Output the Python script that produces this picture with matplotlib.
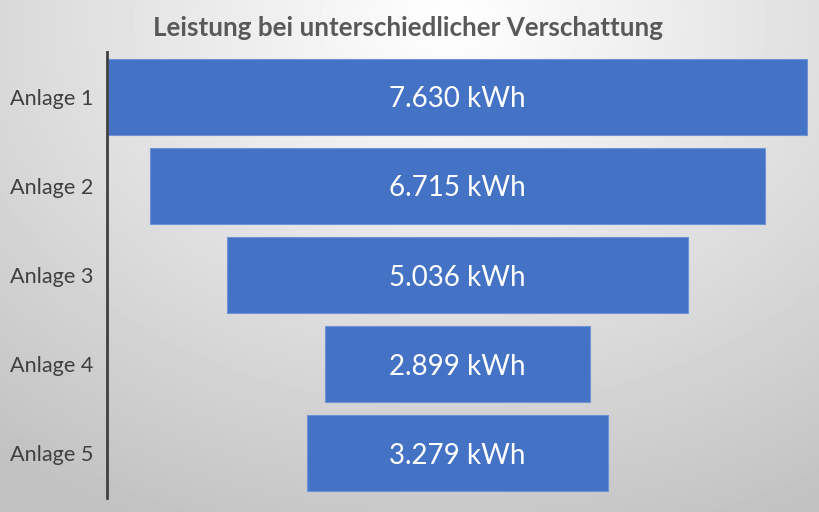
import matplotlib.pyplot as plt
import numpy as np

# Daten
anlagen = ['Anlage 1', 'Anlage 2', 'Anlage 3', 'Anlage 4', 'Anlage 5']
leistung = [7630, 6715, 5036, 2899, 3279]
beschriftung = ['7.630 kWh', '6.715 kWh', '5.036 kWh', '2.899 kWh', '3.279 kWh']

plt.rcParams['font.family'] = ['Lato', 'DejaVu Sans']

fig = plt.figure(figsize=(8.2, 5.12), dpi=100)

# Hintergrund mit radialem Verlauf
bg = fig.add_axes([0, 0, 1, 1])
xx, yy = np.meshgrid(np.linspace(0, 820, 410), np.linspace(0, 512, 256))
r = np.sqrt((xx - 450) ** 2 + ((yy - 20) * 1.3) ** 2)
r = np.clip(r / 720, 0, 1)
grau = 1.0 - 0.24 * r
bg.imshow(grau, cmap='gray', vmin=0, vmax=1, extent=[0, 820, 512, 0], aspect='auto')
bg.set_axis_off()

ax = fig.add_axes([107 / 820, 14 / 512, 701 / 820, 446 / 512])
ax.patch.set_alpha(0)

y = np.arange(len(anlagen))
links = [-v / 2 for v in leistung]
ax.barh(y, leistung, left=links, height=0.85, color='#4472C4', edgecolor='#6f93d6', linewidth=0.8)

for i, txt in enumerate(beschriftung):
    ax.text(0, i + 0.03, txt, ha='center', va='center', color='white', fontsize=20)

ax.set_xlim(-3830, 3830)
ax.set_ylim(4.5, -0.5)
ax.set_yticks(y)
ax.set_yticklabels(anlagen, fontsize=15.6, color='#404040')
ax.tick_params(axis='y', length=0, pad=10)
ax.set_xticks([])
for s in ['top', 'right', 'bottom']:
    ax.spines[s].set_visible(False)
ax.spines['left'].set_color('#404040')
ax.spines['left'].set_linewidth(2)

fig.text(0.497, 0.945, 'Leistung bei unterschiedlicher Verschattung', ha='center', va='center',
         fontsize=18.7, fontweight='bold', color='#595959')

fig.savefig('out.png', dpi=100)
